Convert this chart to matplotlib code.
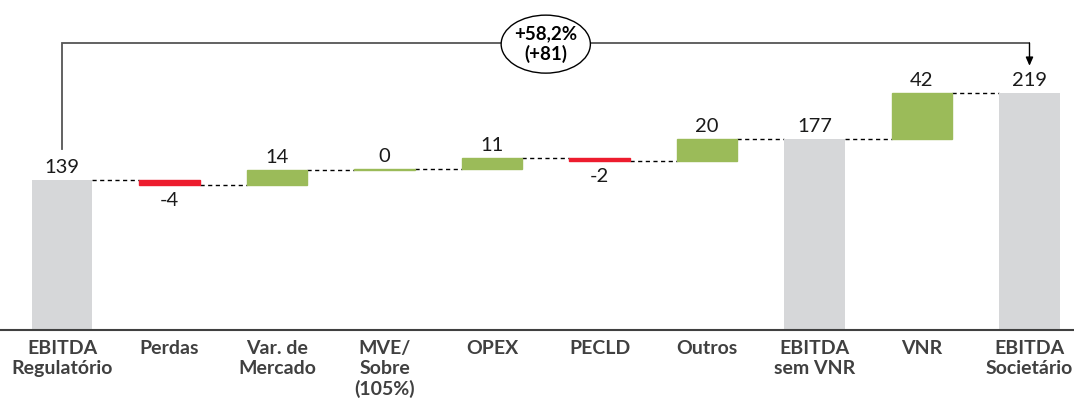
import matplotlib
matplotlib.use("Agg")
import matplotlib.pyplot as plt
from matplotlib.patches import Ellipse

categories = ["EBITDA\nRegulatório", "Perdas", "Var. de\nMercado", "MVE/\nSobre\n(105%)",
              "OPEX", "PECLD", "Outros", "EBITDA\nsem VNR", "VNR", "EBITDA\nSocietário"]
values = [138.6, -4.2, 13.8, 0.2, 10.6, -2.4, 20.3, 176.9, 42.3, 219.2]
kinds = ["total", "delta", "delta", "delta", "delta", "delta", "delta", "total", "delta", "total"]
value_labels = ["139", "-4", "14", "0", "11", "-2", "20", "177", "42", "219"]
growth_label = "+58,2%\n(+81)"

GRAY = "#D6D7D9"
GREEN = "#9BBB59"
RED = "#ED1C2E"
TXT = "#404040"

plt.rcParams["font.family"] = ["Lato", "DejaVu Sans"]

fig = plt.figure(figsize=(10.74, 4), dpi=100)
ax = fig.add_axes([0, 0.175, 1, 0.8115])
ax.set_xlim(-0.577, 9.414)
ax.set_ylim(0, 300)

width = 0.56
running = 0.0
bars = []
for i, (v, k) in enumerate(zip(values, kinds)):
    if k == "total":
        bottom, top = 0.0, v
        color = GRAY
        running = v
        lw = 0
    else:
        start = running
        running = running + v
        bottom, top = min(start, running), max(start, running)
        color = GREEN if v >= 0 else RED
        lw = 1.0
    ax.bar(i, top - bottom, bottom=bottom, width=width, color=color, edgecolor=color,
           linewidth=lw, zorder=2)
    bars.append((i, bottom, top, v, k))

# connectors
for i in range(len(bars) - 1):
    x, b, t, v, k = bars[i]
    end_level = t if (k == "total" or v >= 0) else b
    ax.plot([x + width / 2, x + 1 - width / 2], [end_level, end_level],
            color="black", lw=1.0, ls=(0, (3, 2.5)), zorder=1)

# value labels
for (x, b, t, v, k), lab in zip(bars, value_labels):
    if k == "delta" and v < 0:
        ax.annotate(lab, (x, b), xytext=(0, -21 * 0.72), textcoords="offset points",
                    ha="center", va="baseline", fontsize=14.5, color="#1a1a1a")
    else:
        ax.annotate(lab, (x, t), xytext=(0, 7 * 0.72), textcoords="offset points",
                    ha="center", va="baseline", fontsize=14.5, color="#1a1a1a")

# growth bracket
first_top = values[0]
last_top = values[-1]
n = len(values)
bracket_y = last_top + 46
ax.plot([0, 0, n - 1], [first_top + 29, bracket_y, bracket_y], color="#555555", lw=1.3, zorder=3,
        solid_joinstyle="miter")
ax.annotate("", xy=(n - 1, last_top + 25), xytext=(n - 1, bracket_y),
            arrowprops=dict(arrowstyle="-|>,head_length=0.5,head_width=0.22", color="black", lw=1.0,
                            shrinkA=0, shrinkB=0), zorder=3)
cx = (n - 1) / 2
ell = Ellipse((cx, bracket_y - 1), width=0.83, height=53.6, facecolor="white",
              edgecolor="black", lw=1.0, zorder=4)
ax.add_patch(ell)
ax.text(cx, bracket_y - 1, growth_label, ha="center", va="center", fontsize=13.5,
        fontweight="bold", color="black", zorder=5, linespacing=1.2)

ax.set_xticks(range(n))
ax.set_xticklabels(categories, fontsize=14, fontweight="bold", color=TXT, linespacing=1.2)
ax.tick_params(axis="x", length=0, pad=7)
ax.set_yticks([])
for s in ["top", "left", "right"]:
    ax.spines[s].set_visible(False)
ax.spines["bottom"].set_color(TXT)
ax.spines["bottom"].set_linewidth(1.5)
ax.patch.set_alpha(0)

fig.savefig("out.png", dpi=100)
